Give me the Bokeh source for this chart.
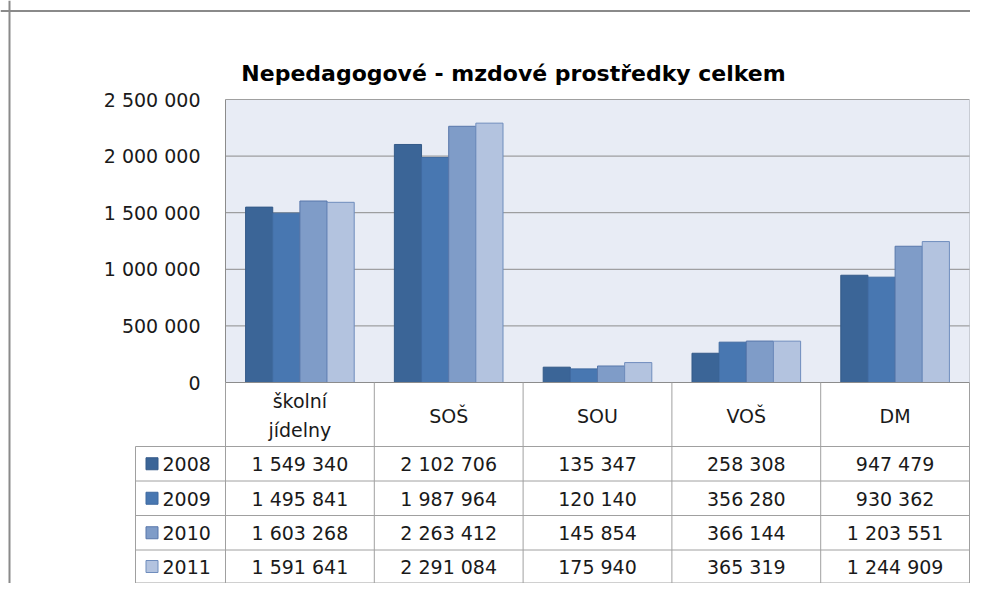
from bokeh.plotting import figure
from bokeh.models import Range1d, LinearAxis, FixedTicker, Span
from bokeh.core.properties import value
from bokeh.embed import file_html
from bokeh.resources import INLINE

# ---------------- data ----------------
chart_title = "Nepedagogové - mzdové prostředky celkem"
categories = ["školní\njídelny", "SOŠ", "SOU", "VOŠ", "DM"]
years = ["2008", "2009", "2010", "2011"]
v2008 = [1549340, 2102706, 135347, 258308, 947479]
v2009 = [1495841, 1987964, 120140, 356280, 930362]
v2010 = [1603268, 2263412, 145854, 366144, 1203551]
v2011 = [1591641, 2291084, 175940, 365319, 1244909]
y_ticks = [0, 500000, 1000000, 1500000, 2000000, 2500000]
y_max = 2500000

series = [v2008, v2009, v2010, v2011]
colors = ["#3B6597", "#4877B1", "#7F9CC8", "#B3C3DF"]
edge_colors = ["#345A88", "#3F6AA0", "#5877AA", "#6F8DBD"]

FONT = "DejaVu Sans"
GRAY = "#8C8C8C"
TABLE_LINE = "#A0A0A0"
TXT = "#1A1A1A"


def fmt(v):
    return f"{v:,}".replace(",", " ")


# ---------------- layout (picture pixels -> data) ----------------
W, H = 970, 583
PX_LEFT, PX_TOP = 0, 0
PLOT_L, PLOT_R = 225, 969  # plot area / table columns
PLOT_TOP, PLOT_BASE = 99, 382
unit_x = (PLOT_R - PLOT_L) / len(categories)
unit_y = y_max / (PLOT_BASE - PLOT_TOP)


def px2x(px):
    return (px - PLOT_L) / unit_x


def px2y(py):
    return (PLOT_BASE - py) * unit_y


p = figure(width=W, height=H, output_backend="svg", toolbar_location=None,
           x_range=Range1d(px2x(PX_LEFT), px2x(PX_LEFT + W)),
           y_range=Range1d(px2y(PX_TOP + H), px2y(PX_TOP)),
           x_axis_location=None, y_axis_location=None,
           min_border=0, outline_line_color=None,
           background_fill_color="white", border_fill_color="white")
p.xgrid.visible = False
p.ygrid.visible = False

n = len(categories)

# plot area background
p.quad(left=[0], right=[n], bottom=[0], top=[y_max],
       fill_color="#E8ECF5", line_color=None)
p.segment(x0=[0], x1=[n], y0=[y_max], y1=[y_max], line_color="#A0A0A0", line_width=1)
p.segment(x0=[n], x1=[n], y0=[0], y1=[y_max], line_color="#C8CCD4", line_width=1)

# gridlines
grid_t = [t for t in y_ticks if 0 < t < y_max]
p.segment(x0=[0] * len(grid_t), x1=[n] * len(grid_t), y0=grid_t, y1=grid_t,
          line_color=GRAY, line_width=1)

# bars
group = 0.73
bw = group / len(series)
for j, (vals, c, ec) in enumerate(zip(series, colors, edge_colors)):
    xs = [i + 0.5 + (j - (len(series) - 1) / 2) * bw for i in range(n)]
    p.vbar(x=xs, top=vals, bottom=0, width=bw, fill_color=c, line_color=ec, line_width=1)

# y axis
yax = LinearAxis(fixed_location=0, bounds=(0, y_max), ticker=FixedTicker(ticks=y_ticks))
yax.major_label_overrides = {t: fmt(t) for t in y_ticks}
yax.axis_line_color = GRAY
yax.major_tick_in = 0
yax.major_tick_out = 0
yax.minor_tick_in = 0
yax.minor_tick_out = 0
yax.major_label_standoff = 25
yax.major_label_text_font = FONT
yax.major_label_text_font_size = "19px"
yax.major_label_text_color = TXT
p.add_layout(yax, "left")

# ---------------- data table ----------------
header_top, header_bot = 382, 446
row_edges = [446, 480.5, 515, 549.5, 582.5]
legend_l = 135

hl_y = [px2y(v) for v in row_edges]
p.segment(x0=[px2x(legend_l)] * len(hl_y), x1=[n] * len(hl_y), y0=hl_y, y1=hl_y,
          line_color=TABLE_LINE, line_width=1)
p.segment(x0=[0], x1=[n], y0=[0], y1=[0], line_color=GRAY, line_width=1)
vx = list(range(n + 1))
p.segment(x0=vx, x1=vx, y0=[0] * len(vx), y1=[hl_y[-1]] * len(vx),
          line_color=TABLE_LINE, line_width=1)
p.segment(x0=[px2x(legend_l)], x1=[px2x(legend_l)], y0=[hl_y[0]], y1=[hl_y[-1]],
          line_color=TABLE_LINE, line_width=1)

# category header texts
p.text(x=[i + 0.5 for i in range(n)], y=[px2y((header_top + header_bot) / 2 + 1)] * n,
       text=categories, text_align="center", text_baseline="middle",
       text_font=value(FONT), text_font_size="19px", text_color=TXT,
       text_line_height=1.3)

# values and legend keys
row_c = [(row_edges[k] + row_edges[k + 1]) / 2 for k in range(len(years))]
for k, (vals, yr) in enumerate(zip(series, years)):
    yc = px2y(row_c[k] + 0.5)
    p.text(x=[i + 0.5 for i in range(n)], y=[yc] * n, text=[fmt(v) for v in vals],
           text_align="center", text_baseline="middle",
           text_font=value(FONT), text_font_size="19px", text_color=TXT)
    p.text(x=[px2x(162)], y=[yc], text=[yr], text_align="left", text_baseline="middle",
           text_font=value(FONT), text_font_size="19px", text_color=TXT)
    p.scatter(x=[px2x(151.5)], y=[px2y(row_c[k])], marker="square", size=12,
              fill_color=colors[k], line_color=edge_colors[k], line_width=1)

# title
p.text(x=[px2x(513)], y=[px2y(73)], text=[chart_title], text_align="center",
       text_baseline="middle", text_font=value(FONT), text_font_size="22px",
       text_font_style="bold", text_color="#000000")

# outer chart border (left and top edges visible)
p.add_layout(Span(location=px2x(9), dimension="height", line_color="#8A8A8A", line_width=2))
p.add_layout(Span(location=px2y(10.5), dimension="width", line_color="#8A8A8A", line_width=2))

open("out.html", "w").write(file_html(p, INLINE))
